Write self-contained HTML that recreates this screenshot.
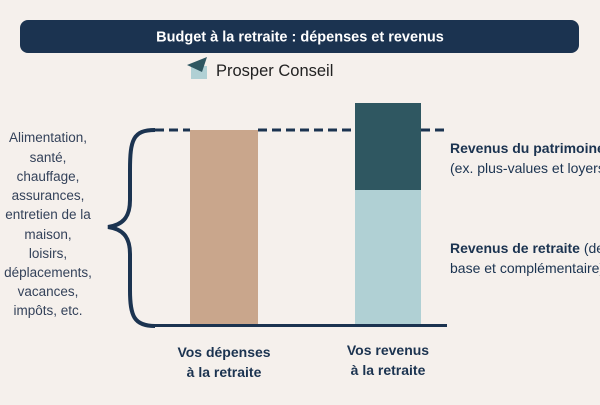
<!DOCTYPE html>
<html><head><meta charset="utf-8"><style>
body{margin:0;width:600px;height:400px;background:#f5f0ec;overflow:hidden;font-family:"Liberation Sans",sans-serif}
</style></head><body>
<svg width="600" height="400" xmlns="http://www.w3.org/2000/svg" font-family="Liberation Sans, sans-serif">
<rect x="0" y="0" width="600" height="400" fill="#f5f0ec"/>
<rect x="20" y="20" width="559" height="33" rx="8" fill="#1b3350"/>
<text x="300" y="41.5" text-anchor="middle" fill="#fff" font-size="14.5" font-weight="bold">Budget à la retraite : dépenses et revenus</text>
<rect x="191" y="66" width="16" height="13" fill="#b0d0d4"/>
<polygon points="187,65 207,57 202,72" fill="#2f5761"/>
<text x="216" y="76" fill="#222" font-size="16.5">Prosper Conseil</text>
<g fill="#34425a" font-size="13.5" text-anchor="middle">
<text x="48" y="142">Alimentation,</text>
<text x="48" y="162">santé,</text>
<text x="48" y="181">chauffage,</text>
<text x="48" y="200">assurances,</text>
<text x="48" y="219">entretien de la</text>
<text x="48" y="239">maison,</text>
<text x="48" y="258">loisirs,</text>
<text x="48" y="277">déplacements,</text>
<text x="48" y="296">vacances,</text>
<text x="48" y="315">impôts, etc.</text>
</g>
<path d="M155,130 C133,130 130,140 130,170 L130,200 C130,218 122,225 108,227 C122,229 130,236 130,254 L130,290 C130,316 134,326 155,326" fill="none" stroke="#1b3350" stroke-width="4"/>
<line x1="155" y1="130" x2="190" y2="130" stroke="#1b3350" stroke-width="3" stroke-dasharray="9,5"/>
<line x1="258" y1="130" x2="355" y2="130" stroke="#1b3350" stroke-width="3" stroke-dasharray="9,5"/>
<line x1="421" y1="130" x2="444" y2="130" stroke="#1b3350" stroke-width="3" stroke-dasharray="9,5"/>
<rect x="190" y="130" width="68" height="195" fill="#c9a68c"/>
<rect x="355" y="103" width="66" height="87" fill="#2f5761"/>
<rect x="355" y="190" width="66" height="135" fill="#b0d0d4"/>
<line x1="155" y1="325.5" x2="447" y2="325.5" stroke="#1b3350" stroke-width="3"/>
<g fill="#1b3350" font-size="14" font-weight="bold" text-anchor="middle">
<text x="224" y="357">Vos dépenses</text>
<text x="224" y="377">à la retraite</text>
<text x="388" y="355">Vos revenus</text>
<text x="388" y="375">à la retraite</text>
</g>
<g fill="#1b3350" font-size="14">
<text x="450" y="153" font-weight="bold">Revenus du patrimoine</text>
<text x="450" y="173">(ex. plus-values et loyers)</text>
<text x="450" y="253"><tspan font-weight="bold">Revenus de retraite</tspan> (de</text>
<text x="450" y="273">base et complémentaire)</text>
</g>
</svg>
</body></html>
